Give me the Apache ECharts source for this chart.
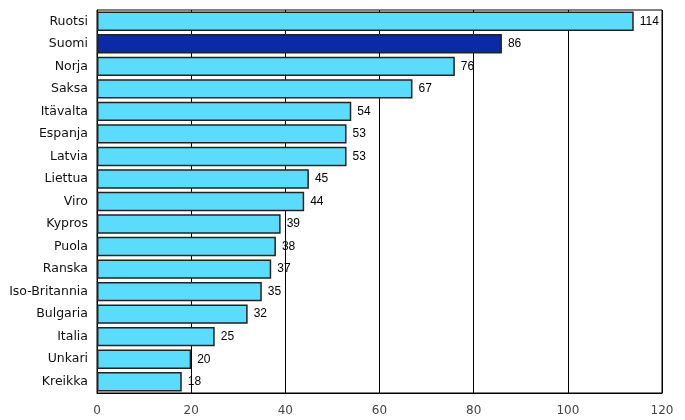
<!DOCTYPE html>
<html><head><meta charset="utf-8">
<script src="https://cdn.jsdelivr.net/npm/echarts@6/dist/echarts.min.js"></script>
<style>html,body{margin:0;padding:0;background:#fff}#c{width:685px;height:420px}</style>
</head><body><div id="c"></div>
<script>
const categories = ["Ruotsi","Suomi","Norja","Saksa","Itävalta","Espanja","Latvia","Liettua","Viro","Kypros","Puola","Ranska","Iso-Britannia","Bulgaria","Italia","Unkari","Kreikka"];
const values = [114,86,76,67,54,53,53,45,44,39,38,37,35,32,25,20,18];
const highlight = "Suomi";
const xTicks = [0,20,40,60,80,100,120];

const chart = echarts.init(document.getElementById('c'));
chart.setOption({
  animation: false,
  grid: {left: 97, right: 23, top: 10, bottom: 27, containLabel: false, show: true, borderColor: '#000', borderWidth: 1, backgroundColor: 'transparent'},
  xAxis: {
    type: 'value', min: xTicks[0], max: xTicks[xTicks.length-1], interval: 20,
    axisLine: {show: true, lineStyle: {color: '#000'}},
    axisTick: {show: false},
    splitLine: {show: true, lineStyle: {color: '#000', width: 1}},
    axisLabel: {color: '#444', fontFamily: 'DejaVu Sans', fontSize: 12, margin: 12}
  },
  yAxis: {
    type: 'category', inverse: true, data: categories,
    axisLine: {show: true, lineStyle: {color: '#000'}},
    axisTick: {show: false},
    axisLabel: {color: '#111', fontFamily: 'DejaVu Sans', fontSize: 12.5, margin: 9}
  },
  series: [{
    type: 'bar',
    data: values.map((v, i) => ({
      value: v,
      itemStyle: {color: categories[i] === highlight ? '#0a2aa8' : '#5cdcfc'}
    })),
    barCategoryGap: '14%',
    itemStyle: {borderColor: '#222', borderWidth: 1.5},
    label: {show: true, position: 'right', distance: 6, color: '#000', fontFamily: 'Liberation Sans, Arial', fontSize: 12}
  }]
});
</script></body></html>
